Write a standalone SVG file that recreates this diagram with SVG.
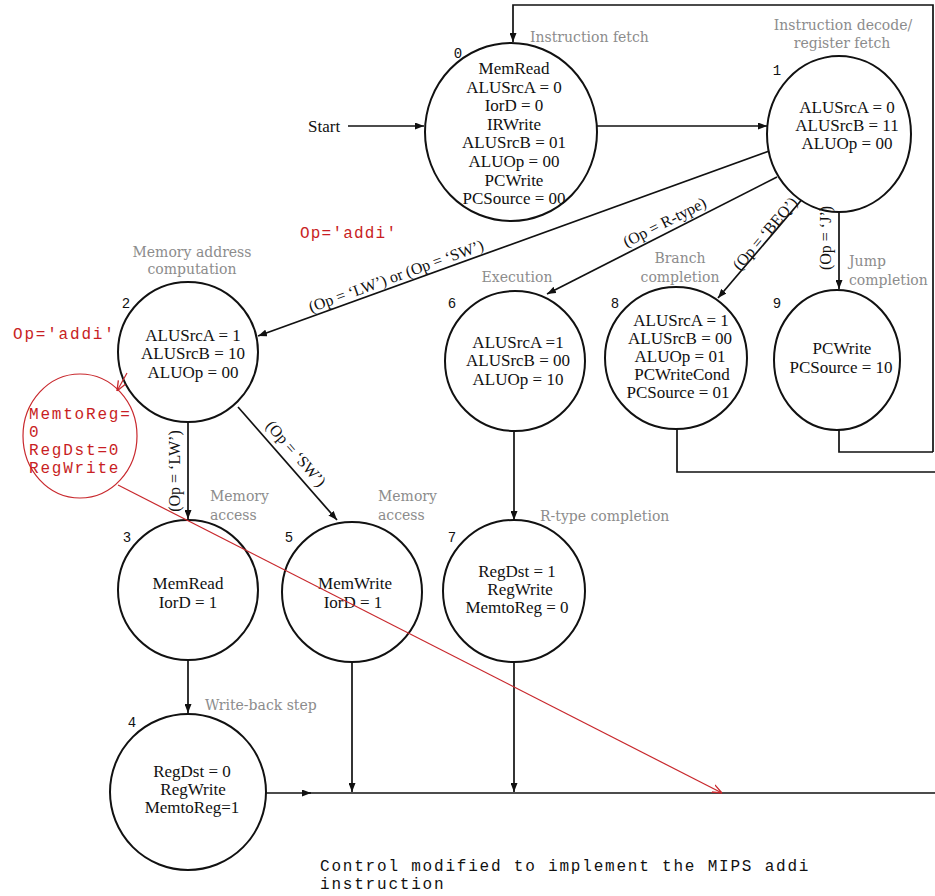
<svg xmlns="http://www.w3.org/2000/svg" width="935" height="896" viewBox="0 0 935 896">
<style>
.node{fill:#fff;stroke:#111;stroke-width:2}
.t{font-family:"Liberation Serif",serif;font-size:17px;fill:#111;text-anchor:middle}
.g{font-family:"DejaVu Serif",serif;font-size:14px;fill:#8c8c8c}
.gm{font-family:"DejaVu Serif",serif;font-size:14px;fill:#8c8c8c;text-anchor:middle}
.n{font-family:"Liberation Mono",monospace;font-size:14px;fill:#111;text-anchor:middle}
.lbl{font-family:"Liberation Serif",serif;font-size:16px;fill:#111;text-anchor:middle}
.red{font-family:"Liberation Mono",monospace;font-size:16px;letter-spacing:1.8px;fill:#c81e24}
.cap{font-family:"Liberation Mono",monospace;font-size:16px;letter-spacing:1.8px;fill:#111}
.c{fill:none;stroke:#111;stroke-width:1.7}
.rc{fill:none;stroke:#c8282d;stroke-width:1.2}
</style>
<defs>
<marker id="ah" viewBox="0 0 9 7" refX="9" refY="3.5" markerWidth="9" markerHeight="7" markerUnits="userSpaceOnUse" orient="auto"><path d="M0,0 L9,3.5 L0,7 z" fill="#111"/></marker>
<marker id="rah" viewBox="0 0 10 10" refX="10" refY="5" markerWidth="10" markerHeight="10" markerUnits="userSpaceOnUse" orient="auto"><path d="M0,1 L10,5 L0,9" fill="none" stroke="#c8282d" stroke-width="1.3"/></marker>
</defs>
<rect width="935" height="896" fill="#fff"/>
<g id="connectors">
<path class="c" d="M348,126 H424" marker-end="url(#ah)"/>
<path class="c" d="M597,126 H767" marker-end="url(#ah)"/>
<path class="c" d="M933,452 V5 H513 V42" marker-end="url(#ah)"/>
<path class="c" d="M772,150 L258,336" marker-end="url(#ah)"/>
<path class="c" d="M777,177 L547,294" marker-end="url(#ah)"/>
<path class="c" d="M810,190 L718,298" marker-end="url(#ah)"/>
<path class="c" d="M839,212 V289" marker-end="url(#ah)"/>
<path class="c" d="M188,422 V519" marker-end="url(#ah)"/>
<path class="c" d="M238,407 L337,520" marker-end="url(#ah)"/>
<path class="c" d="M188,660 V713" marker-end="url(#ah)"/>
<path class="c" d="M352,662 V792" marker-end="url(#ah)"/>
<path class="c" d="M514,431 V520" marker-end="url(#ah)"/>
<path class="c" d="M514,661 V792" marker-end="url(#ah)"/>
<path class="c" d="M266,793 H311" marker-end="url(#ah)"/>
<path class="c" d="M305,793 H935"/>
<path class="c" d="M677,428 V472 H935"/>
<path class="c" d="M839,430 V452 H933"/>
</g>
<g id="start"><text x="308" y="132" style="font-family:'Liberation Serif',serif;font-size:17px;fill:#111">Start</text></g>
<g id="state0">
<ellipse class="node" cx="511" cy="132" rx="86" ry="89"/>
<text class="n" x="458" y="58">0</text>
<text class="t"><tspan x="514" y="74">MemRead</tspan><tspan x="514" y="92.6">ALUSrcA = 0</tspan><tspan x="514" y="111.2">IorD = 0</tspan><tspan x="514" y="129.8">IRWrite</tspan><tspan x="514" y="148.4">ALUSrcB = 01</tspan><tspan x="514" y="167">ALUOp = 00</tspan><tspan x="514" y="185.6">PCWrite</tspan><tspan x="514" y="204.2">PCSource = 00</tspan></text>
</g>
<g id="state1">
<ellipse class="node" cx="839" cy="134" rx="72" ry="78"/>
<text class="n" x="777" y="75">1</text>
<text class="t"><tspan x="847" y="113">ALUSrcA = 0</tspan><tspan x="847" y="131">ALUSrcB = 11</tspan><tspan x="847" y="149">ALUOp = 00</tspan></text>
</g>
<g id="state2">
<circle class="node" cx="188" cy="352" r="70"/>
<text class="n" x="126" y="308">2</text>
<text class="t"><tspan x="193" y="341">ALUSrcA = 1</tspan><tspan x="193" y="359">ALUSrcB = 10</tspan><tspan x="193" y="378">ALUOp = 00</tspan></text>
</g>
<g id="state6">
<circle class="node" cx="515" cy="361" r="70"/>
<text class="n" x="452" y="308">6</text>
<text class="t"><tspan x="518" y="348">ALUSrcA =1</tspan><tspan x="518" y="366">ALUSrcB = 00</tspan><tspan x="518" y="385">ALUOp = 10</tspan></text>
</g>
<g id="state8">
<circle class="node" cx="676" cy="358" r="71"/>
<text class="n" x="615" y="308">8</text>
<text class="t"><tspan x="681" y="326">ALUSrcA = 1</tspan><tspan x="680" y="344">ALUSrcB = 00</tspan><tspan x="680" y="362">ALUOp = 01</tspan><tspan x="682" y="380">PCWriteCond</tspan><tspan x="678" y="398">PCSource = 01</tspan></text>
</g>
<g id="state9">
<ellipse class="node" cx="837" cy="360" rx="63" ry="70"/>
<text class="n" x="777" y="308">9</text>
<text class="t"><tspan x="842" y="354">PCWrite</tspan><tspan x="841" y="373">PCSource = 10</tspan></text>
</g>
<g id="state3">
<circle class="node" cx="188" cy="590" r="70"/>
<text class="n" x="127" y="542">3</text>
<text class="t"><tspan x="188" y="589">MemRead</tspan><tspan x="188" y="608">IorD = 1</tspan></text>
</g>
<g id="state5">
<circle class="node" cx="352" cy="592" r="70"/>
<text class="n" x="289" y="542">5</text>
<text class="t"><tspan x="355" y="589">MemWrite</tspan><tspan x="353" y="608">IorD = 1</tspan></text>
</g>
<g id="state7">
<circle class="node" cx="514" cy="591" r="71"/>
<text class="n" x="452" y="542">7</text>
<text class="t"><tspan x="517" y="577">RegDst = 1</tspan><tspan x="520" y="595">RegWrite</tspan><tspan x="517" y="613">MemtoReg = 0</tspan></text>
</g>
<g id="state4">
<circle class="node" cx="188" cy="792" r="78"/>
<text class="n" x="132" y="727">4</text>
<text class="t"><tspan x="192" y="777">RegDst = 0</tspan><tspan x="193" y="795">RegWrite</tspan><tspan x="192" y="813">MemtoReg=1</tspan></text>
</g>
<g id="phase-labels">
<text class="g" x="530" y="42">Instruction fetch</text>
<text class="gm"><tspan x="843" y="30">Instruction decode/</tspan><tspan x="842" y="48">register fetch</tspan></text>
<text class="gm"><tspan x="192" y="257">Memory address</tspan><tspan x="192" y="274">computation</tspan></text>
<text class="gm" x="517" y="282">Execution</text>
<text class="gm"><tspan x="680" y="263">Branch</tspan><tspan x="680" y="282">completion</tspan></text>
<text class="g"><tspan x="849" y="266">Jump</tspan><tspan x="849" y="285">completion</tspan></text>
<text class="g"><tspan x="210" y="501">Memory</tspan><tspan x="210" y="520">access</tspan></text>
<text class="g"><tspan x="378" y="501">Memory</tspan><tspan x="378" y="520">access</tspan></text>
<text class="g" x="540" y="521">R-type completion</text>
<text class="g" x="205" y="710">Write-back step</text>
</g>
<g id="edge-labels">
<text class="lbl" x="398" y="281" transform="rotate(-19.9 398 281)">(Op = ‘LW’) or (Op = ‘SW’)</text>
<text class="lbl" x="667" y="227" transform="rotate(-26.9 667 227)">(Op = R-type)</text>
<text class="lbl" x="769" y="237" transform="rotate(-49.6 769 237)">(Op = ‘BEQ’)</text>
<text class="lbl" x="831" y="238" transform="rotate(-90 831 238)">(Op = ‘J’)</text>
<text class="lbl" x="180" y="471" transform="rotate(-90 180 471)">(Op = ‘LW’)</text>
<text class="lbl" x="292" y="457" transform="rotate(48.8 292 457)">(Op = ‘SW’)</text>
</g>
<g id="addi-annotation">
<text class="red" x="300" y="238" style="letter-spacing:1.2px">Op='addi'</text>
<text class="red" x="13" y="339">Op='addi'</text>
<ellipse class="rc" cx="80" cy="436" rx="57" ry="62"/>
<text class="red"><tspan x="29" y="419">MemtoReg=</tspan><tspan x="29" y="437">0</tspan><tspan x="29" y="455">RegDst=0</tspan><tspan x="29" y="473">RegWrite</tspan></text>
<path class="rc" d="M127,373 L117,391" marker-end="url(#rah)"/>
<path class="rc" d="M118,485 L722,793" marker-end="url(#rah)"/>
</g>
<g id="caption">
<text class="cap"><tspan x="320" y="871">Control modified to implement the MIPS addi</tspan><tspan x="320" y="889">instruction</tspan></text>
</g>
</svg>
